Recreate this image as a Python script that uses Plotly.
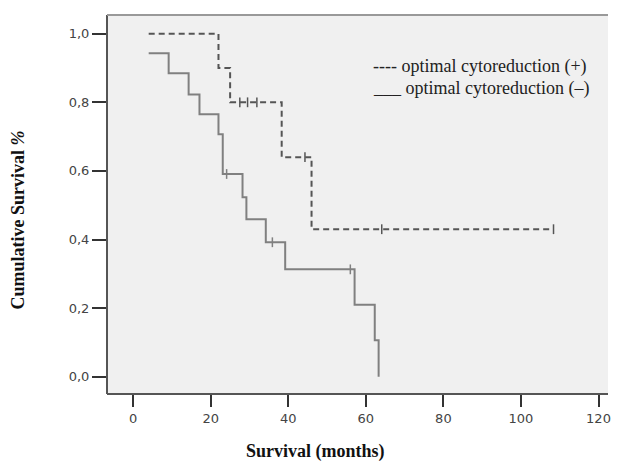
import plotly.graph_objects as go

# Kaplan-Meier steps: optimal cytoreduction (+)
pos_time = [4, 22, 25, 38.3, 46, 108.4]
pos_surv = [1.0, 0.90, 0.80, 0.64, 0.43, 0.43]
pos_cens_time = [27.5, 29.5, 31.9, 44.3, 64.1, 108.4]
pos_cens_surv = [0.80, 0.80, 0.80, 0.64, 0.43, 0.43]

# optimal cytoreduction (-)
neg_time = [4, 9.15, 14.3, 17.1, 22, 23.1, 28.2, 29.2, 34.2, 39.2, 57.1, 62.3, 63.3]
neg_surv = [0.943, 0.885, 0.823, 0.765, 0.707, 0.591, 0.523, 0.459, 0.392, 0.313, 0.21, 0.106, 0.0]
neg_cens_time = [24.1, 35.9, 56.0]
neg_cens_surv = [0.591, 0.392, 0.313]

x_ticks = [0, 20, 40, 60, 80, 100, 120]
y_ticks = [0.0, 0.2, 0.4, 0.6, 0.8, 1.0]
y_tick_labels = ["0,0", "0,2", "0,4", "0,6", "0,8", "1,0"]

legend_texts = ["---- optimal cytoreduction (+)", "___ optimal cytoreduction (–)"]

POS_C = "#555555"
NEG_C = "#808080"

fig = go.Figure()
fig.add_trace(go.Scatter(x=pos_time, y=pos_surv, mode="lines", line_shape="hv",
                         line=dict(color=POS_C, width=2, dash="6px,4px"), showlegend=False))
fig.add_trace(go.Scatter(x=pos_cens_time, y=pos_cens_surv, mode="markers",
                         marker=dict(symbol="line-ns-open", size=7, color=POS_C,
                                     line=dict(color=POS_C, width=1.5)),
                         showlegend=False))
fig.add_trace(go.Scatter(x=neg_time, y=neg_surv, mode="lines", line_shape="hv",
                         line=dict(color=NEG_C, width=2), showlegend=False))
fig.add_trace(go.Scatter(x=neg_cens_time, y=neg_cens_surv, mode="markers",
                         marker=dict(symbol="line-ns-open", size=7, color=NEG_C,
                                     line=dict(color=NEG_C, width=1.5)),
                         showlegend=False))

# page body has an 8px margin, so the figure is 16px smaller and offset by 8px
fig.update_layout(
    width=603, height=453,
    margin=dict(l=99, r=0, t=7, b=67),
    paper_bgcolor="white", plot_bgcolor="#f0f0f0",
    xaxis=dict(range=[-6.75, 122.45], tickvals=x_ticks, ticks="outside", ticklen=12, tickwidth=2,
               tickcolor="#333333", showgrid=False, zeroline=False, showline=False,
               ticklabeloverflow="allow",
               tickfont=dict(family="DejaVu Sans", size=13, color="#444444")),
    yaxis=dict(range=[-0.0504, 1.0545], tickvals=y_ticks, ticktext=y_tick_labels, ticks="outside",
               ticklen=14, tickwidth=2, tickcolor="#333333", showgrid=False, zeroline=False,
               showline=False, tickfont=dict(family="DejaVu Sans", size=13, color="#444444")),
    font=dict(family="Liberation Serif"),
)

# plot frame: dark left/bottom, lighter top
fig.add_shape(type="line", xref="paper", yref="paper", x0=0, x1=0, y0=0, y1=1,
              line=dict(color="#555555", width=2))
fig.add_shape(type="line", xref="paper", yref="paper", x0=0, x1=1, y0=0, y1=0,
              line=dict(color="#555555", width=2))
fig.add_shape(type="line", xref="paper", yref="paper", x0=0, x1=1, y0=1, y1=1,
              line=dict(color="#999999", width=2))

PW = 504.0
PH = 379.0
for i, t in enumerate(legend_texts):
    fig.add_annotation(x=(373 - 107) / PW, y=1 - (67 + 22 * i - 15) / PH, xref="paper", yref="paper",
                       text=t, showarrow=False, xanchor="left", yanchor="middle",
                       font=dict(family="Liberation Serif", size=18, color="#222222"))

fig.add_annotation(x=(317 - 107) / PW, y=-(451 - 394) / PH, xref="paper", yref="paper",
                   text="<b>Survival (months)</b>", showarrow=False, xanchor="center", yanchor="middle",
                   font=dict(family="Liberation Serif", size=18, color="#111111"))
fig.add_annotation(x=(17 - 107) / PW, y=1 - (220 - 15) / PH, xref="paper", yref="paper",
                   text="<b>Cumulative Survival <i>%</i></b>", textangle=-90, showarrow=False,
                   xanchor="center", yanchor="middle",
                   font=dict(family="Liberation Serif", size=18, color="#111111"))

fig.write_html("out.html")
